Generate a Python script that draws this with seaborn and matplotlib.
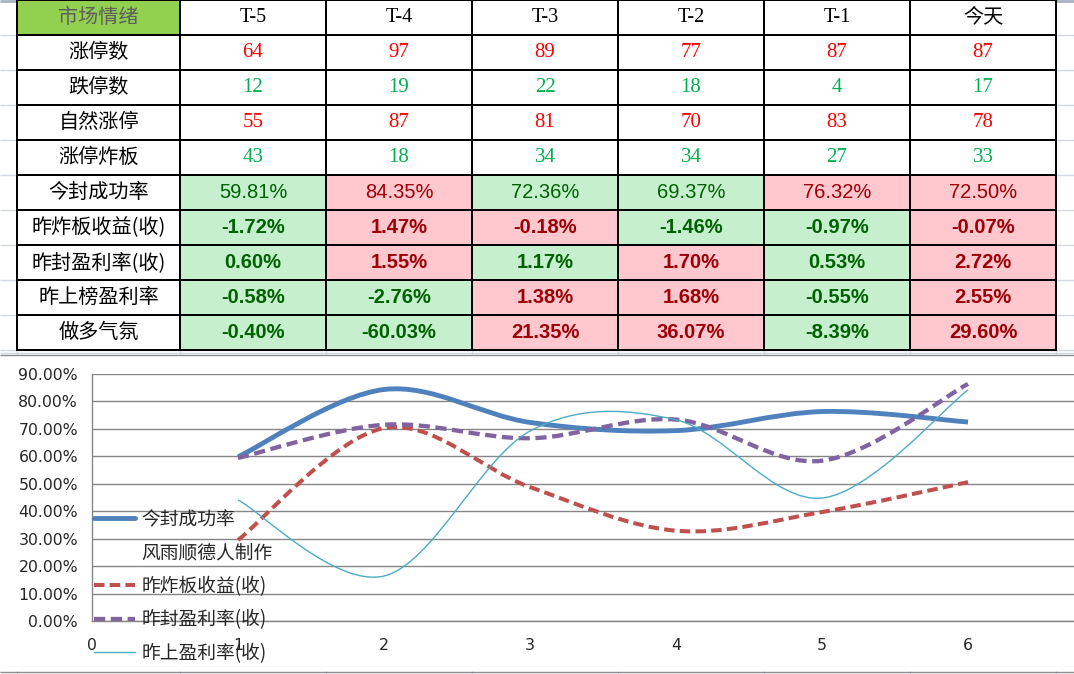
import numpy as np
import pandas as pd
import matplotlib
matplotlib.use("Agg")
import matplotlib.pyplot as plt
from matplotlib.path import Path
from matplotlib.patches import PathPatch
from matplotlib.lines import Line2D
from matplotlib.colors import ListedColormap
import seaborn as sns

# ---- table data ----
days = ["T-5", "T-4", "T-3", "T-2", "T-1", "今天"]
header_label = "市场情绪"
count_labels = ["涨停数", "跌停数", "自然涨停", "涨停炸板"]
limit_up = [64, 97, 89, 77, 87, 87]
limit_down = [12, 19, 22, 18, 4, 17]
natural_up = [55, 87, 81, 70, 83, 78]
broken_cnt = [43, 18, 34, 34, 27, 33]

pct_labels = ["今封成功率", "昨炸板收益(收)", "昨封盈利率(收)", "昨上榜盈利率", "做多气氛"]
seal_rate = [59.81, 84.35, 72.36, 69.37, 76.32, 72.50]
broken_ret = [-1.72, 1.47, -0.18, -1.46, -0.97, -0.07]
sealed_ret = [0.60, 1.55, 1.17, 1.70, 0.53, 2.72]
list_ret = [-0.58, -2.76, 1.38, 1.68, -0.55, 2.55]
mood = [-0.40, -60.03, 21.35, 36.07, -8.39, 29.60]
# cell shading of the percent rows: 1 = green, 2 = pink
pct_shade = [
    [1, 2, 1, 1, 2, 2],
    [1, 2, 2, 1, 1, 2],
    [1, 2, 1, 2, 1, 2],
    [1, 1, 2, 2, 1, 2],
    [1, 1, 2, 2, 1, 2],
]

# ---- chart data (percent) ----
chart_x = [1, 2, 3, 4, 5, 6]
chart_seal = [59.81, 84.35, 72.36, 69.37, 76.32, 72.50]
chart_broken = [29.5, 70.3, 48.8, 32.9, 39.7, 50.6]
chart_sealed = [59.4, 71.5, 66.6, 73.4, 58.4, 86.4]
chart_list = [44.1, 16.4, 69.2, 73.3, 44.8, 84.2]
chart_names = ["今封成功率", "昨炸板收益(收)", "昨封盈利率(收)", "昨上盈利率(收)"]
credit = "风雨顺德人制作"
y_ticks = [0, 10, 20, 30, 40, 50, 60, 70, 80, 90]
x_ticks = [0, 1, 2, 3, 4, 5, 6]

sns.set_style("white")
plt.rcParams["font.family"] = ["Noto Sans CJK SC", "DejaVu Sans"]

W, H = 1074, 674
fig = plt.figure(figsize=(W / 100, H / 100), dpi=100)


def px_axes(x0, y0, x1, y1, **kw):
    return fig.add_axes([x0 / W, 1 - y1 / H, (x1 - x0) / W, (y1 - y0) / H], **kw)


# spreadsheet background grid
col_edges = [17, 180, 326, 472, 618, 764, 910, 1056]
row_edges = [i * 35 for i in range(11)]
bg = px_axes(0, 0, W, H)
bg.set_xlim(0, W)
bg.set_ylim(H, 0)
bg.axis("off")
bg.hlines(row_edges[1:], 0, W, color="#D4D8E0", lw=1)
bg.hlines([0.5], 0, W, color="#A7B2C4", lw=2)
bg.hlines([353], 0, W, color="#D4D8E0", lw=1)
bg.vlines(col_edges, 350, 355, color="#D4D8E0", lw=1)
bg.vlines(col_edges, 671, 674, color="#D4D8E0", lw=1)
bg.hlines([355, 671.5], 0, W, color="#8E8E8E", lw=1)

# ---- table ----
cmap = ListedColormap(["white", "#C6EFCE", "#FFC7CE", "#92D050"])
shade = np.zeros((10, 6), dtype=int)
shade[5:, :] = np.array(pct_shade)
lab_shade = np.zeros((10, 1), dtype=int)
lab_shade[0, 0] = 3

ax_lab = px_axes(col_edges[0], 0, col_edges[1], 350)
ax_tab = px_axes(col_edges[1], 0, col_edges[-1], 350)
for a, m in [(ax_lab, lab_shade), (ax_tab, shade)]:
    sns.heatmap(pd.DataFrame(m), cmap=cmap, vmin=-0.5, vmax=3.5, cbar=False,
                linewidths=1.2, linecolor="black", xticklabels=False,
                yticklabels=False, ax=a)
    a.collections[0].set_clip_on(False)

row_labels = [header_label] + count_labels + pct_labels
for i, lab in enumerate(row_labels):
    ax_lab.text(0.5, i + 0.5, lab, ha="center", va="center", fontsize=14.5,
                color="#5E5E5E" if i == 0 else "black")

serif = ["Liberation Serif", "Noto Sans CJK SC"]
for j, d in enumerate(days):
    ax_tab.text(j + 0.5, 0.5, d, ha="center", va="center", fontsize=14.5,
                family=serif, color="black")

count_rows = [limit_up, limit_down, natural_up, broken_cnt]
count_colors = ["#FF0000", "#00B050", "#FF0000", "#00B050"]
for r, (vals, c) in enumerate(zip(count_rows, count_colors)):
    for j, v in enumerate(vals):
        ax_tab.text(j + 0.5, r + 1.5, str(v), ha="center", va="center",
                    fontsize=15, family="Liberation Serif", color=c)

pct_rows = [seal_rate, broken_ret, sealed_ret, list_ret, mood]
for r, vals in enumerate(pct_rows):
    for j, v in enumerate(vals):
        c = "#006100" if pct_shade[r][j] == 1 else "#9C0006"
        ax_tab.text(j + 0.5, r + 5.5, f"{v:.2f}%", ha="center", va="center",
                    fontsize=14.5, family="Liberation Sans",
                    weight="normal" if r == 0 else "bold", color=c)

# ---- chart ----
ax = px_axes(92, 374, W, 621)
ax.set_xlim(0, (W - 92) / 146)
ax.set_ylim(0, 90)
ax.set_yticks(y_ticks)
ax.set_yticklabels([f"{v:.2f}%" for v in y_ticks])
ax.set_xticks(x_ticks)
ax.set_xticklabels([str(v) for v in x_ticks])
ax.grid(axis="y", color="#868686", lw=1)
ax.grid(axis="x", visible=False)
for s in ["top", "right"]:
    ax.spines[s].set_visible(False)
for s in ["left", "bottom"]:
    ax.spines[s].set_color("#868686")
    ax.spines[s].set_linewidth(1)
ax.tick_params(axis="y", direction="out", length=5, width=1, color="#868686",
               pad=5, labelsize=11.3)
ax.tick_params(axis="x", direction="out", length=5, width=1, color="#868686",
               pad=7, labelsize=11.3)
for t in ax.get_xticklabels() + ax.get_yticklabels():
    t.set_family("DejaVu Sans")


def smooth_path(xs, ys):
    # smoothed line through the points (Catmull-Rom as cubic Bezier)
    pts = np.column_stack([xs, ys]).astype(float)
    ext = np.vstack([pts[0], pts, pts[-1]])
    verts = [pts[0]]
    codes = [Path.MOVETO]
    for i in range(len(pts) - 1):
        p0, p1, p2, p3 = ext[i], ext[i + 1], ext[i + 2], ext[i + 3]
        verts += [p1 + (p2 - p0) / 6, p2 - (p3 - p1) / 6, p2]
        codes += [Path.CURVE4] * 3
    return Path(verts, codes)


styles = [
    dict(color="#4F81BD", lw=3.5, ls="-"),
    dict(color="#C0504D", lw=2.9, ls=(0, (2.6, 1.3))),
    dict(color="#8064A2", lw=3.1, ls=(0, (2.6, 1.3))),
    dict(color="#4BACC6", lw=1.0, ls="-"),
]
series = [chart_seal, chart_broken, chart_sealed, chart_list]
handles = []
for vals, st in zip(series, styles):
    ax.add_patch(PathPatch(smooth_path(chart_x, vals), fill=False,
                           edgecolor=st["color"], lw=st["lw"], ls=st["ls"],
                           capstyle="butt", joinstyle="round"))
    handles.append(Line2D([], [], color=st["color"], lw=st["lw"], ls=st["ls"],
                          dash_capstyle="butt"))

leg_handles = [handles[0], Line2D([], [], color="none")] + handles[1:]
leg_labels = [chart_names[0], credit] + chart_names[1:]
fig.legend(leg_handles, leg_labels, loc="upper left",
           bbox_to_anchor=(94 / W, 1 - 509 / H), bbox_transform=fig.transFigure,
           frameon=False, fontsize=13.5, borderpad=0, borderaxespad=0,
           handlelength=2.2, handletextpad=0.32, labelspacing=0.665)

fig.savefig("out.png", dpi=100)
